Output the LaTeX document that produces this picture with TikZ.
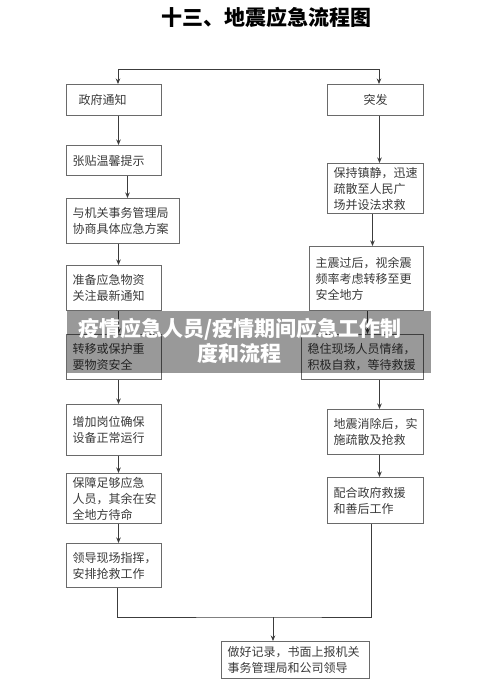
\documentclass[tikz,border=0pt]{standalone}
\usepackage{fontspec}
\newfontfamily\cjk{Noto Sans CJK SC}
\usetikzlibrary{arrows.meta, positioning, calc}
\definecolor{linegray}{HTML}{3C3C3C}
\definecolor{boxgray}{HTML}{6A6A6A}
\definecolor{textgray}{HTML}{3A3A3A}

\tikzset{
  stepbox/.style={draw=boxgray, line width=1pt, anchor=north west, inner xsep=6pt, inner ysep=0pt,
    align=left, text=textgray, font=\cjk\fontsize{12}{16}\selectfont},
  link/.style={draw=linegray, line width=0.8pt},
  arr/.style={link, -{Stealth[length=5.5pt, width=4.5pt]}}
}

\begin{document}
\begin{tikzpicture}[x=1pt, y=-1pt]
  \useasboundingbox (0,0) rectangle (500,686);

  % 标题
  \node[font=\cjk\bfseries\fontsize{21}{24}\selectfont] (title) at (266,17) {十三、地震应急流程图};

  % 左列
  \node[stepbox, text width=83pt, minimum height=31pt] (zf) at (66,84) {\hspace{6pt}政府通知};
  \node[stepbox, text width=83pt, minimum height=30pt] (zt) at (66,145) {张贴温馨提示};
  \node[stepbox, text width=101pt, minimum height=45pt] (yj) at (66,198) {与机关事务管理局\\协商具体应急方案};
  \node[stepbox, text width=83pt, minimum height=45pt] (zb) at (66,265) {准备应急物资\\关注最新通知};
  \node[stepbox, text width=83pt, minimum height=45pt] (zy) at (66,334) {转移或保护重\\要物资安全};
  \node[stepbox, text width=83pt, minimum height=51pt] (zj) at (66,404) {增加岗位确保\\设备正常运行\\[8pt]};
  \node[stepbox, text width=83pt, minimum height=50pt] (bz) at (66,473) {保障足够应急\\人员，其余在安\\全地方待命};
  \node[stepbox, text width=83pt, minimum height=44pt] (ld) at (66,543) {领导现场指挥，\\安排抢救工作};

  % 右列
  \node[stepbox, text width=84pt, minimum height=31pt, align=center] (tf) at (327,84) {突发};
  \node[stepbox, text width=84pt, minimum height=50pt] (bc) at (327,163) {保持镇静，迅速\\疏散至人民广\\场并设法求救};
  \node[stepbox, text width=102pt, minimum height=64pt] (zz) at (309,246) {主震过后，视余震\\频率考虑转移至更\\安全地方};
  \node[stepbox, text width=110pt, minimum height=45pt] (wz) at (301,334) {稳住现场人员情绪，\\积极自救，等待救援};
  \node[stepbox, text width=84pt, minimum height=45pt] (dx) at (327,409) {地震消除后，实\\施疏散及抢救};
  \node[stepbox, text width=84pt, minimum height=46pt] (ph) at (327,477) {配合政府救援\\和善后工作};

  % 汇总
  \node[stepbox, text width=136pt, minimum height=37pt] (zh) at (221,641) {做好记录，书面上报机关\\事务管理局和公司领导};

  % 顶部分叉
  \coordinate (tl) at (118,69);
  \coordinate (tr) at (379,69);
  \draw[link, {Stealth[length=5.5pt, width=4.5pt]}-{Stealth[length=5.5pt, width=4.5pt]}]
    (zf.north -| tl) -- (tl) -- (tr) -- (tf.north -| tr);

  % 左列连线
  \draw[arr] ([xshift=4.5pt]zf.south) -- ([xshift=4.5pt]zf.south |- zt.north);
  \draw[arr] ([xshift=13.5pt]zt.south) -- ([xshift=13.5pt]zt.south |- yj.north);
  \draw[arr] ([xshift=-4.5pt]yj.south) -- ([xshift=-4.5pt]yj.south |- zb.north);
  \draw[arr] ([xshift=4.5pt]zb.south) -- ([xshift=4.5pt]zb.south |- zy.north);
  \draw[arr] ([xshift=4.5pt]zy.south) -- ([xshift=4.5pt]zy.south |- zj.north);
  \draw[arr] ([xshift=4.5pt]zj.south) -- ([xshift=4.5pt]zj.south |- bz.north);
  \draw[arr] ([xshift=4.5pt]bz.south) -- ([xshift=4.5pt]bz.south |- ld.north);

  % 右列连线
  \draw[arr] ([xshift=4pt]tf.south) -- ([xshift=4pt]tf.south |- bc.north);
  \draw[arr] ([xshift=-3pt]bc.south) -- ([xshift=-3pt]bc.south |- zz.north);
  \draw[arr] ([xshift=1pt]zz.south) -- ([xshift=1pt]zz.south |- wz.north);
  \draw[arr] ([xshift=17pt]wz.south) -- ([xshift=17pt]wz.south |- dx.north);
  \draw[arr] ([xshift=4pt]dx.south) -- ([xshift=4pt]dx.south |- ph.north);

  % 底部汇合
  \coordinate (mg) at (273,617);
  \draw[link] ([xshift=3.5pt]ld.south) |- (mg) -| ([xshift=-4pt]ph.south);
  \draw[arr] (mg) -- (mg |- zh.north);

  % 水印横幅
  \fill[black, opacity=0.4] (67,311) rectangle (431,373);
  \node[text=white, font=\cjk\bfseries\fontsize{21}{25}\selectfont, align=center] (wm) at (240,341)
    {疫情应急人员/疫情期间应急工作制\\度和流程};
\end{tikzpicture}
\end{document}
